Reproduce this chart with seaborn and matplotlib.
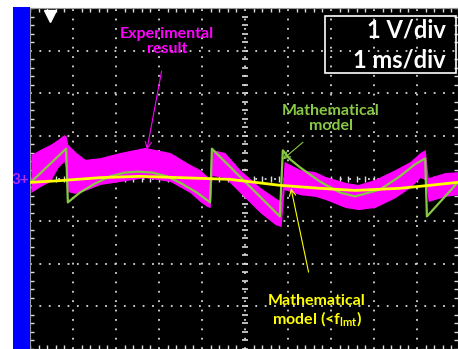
import numpy as np
import pandas as pd
import matplotlib
matplotlib.use("Agg")
import matplotlib.pyplot as plt
from matplotlib.patches import Rectangle
import seaborn as sns

# time in ms (1 ms/div), voltage in V (1 V/div)
exp_t = [0.02, 0.23, 0.47, 0.65, 0.79, 0.84, 0.88, 1.05, 1.28, 1.63, 2.09, 2.67,
         3.26, 3.72, 3.95, 4.12, 4.19, 4.23, 4.53, 4.88, 5.35, 5.70, 5.84, 5.91,
         6.28, 6.63, 6.86, 7.33, 7.63, 8.02, 8.49, 8.84, 9.07, 9.19, 9.26, 9.65, 9.95]
exp_top = [0.56, 0.68, 0.80, 0.92, 1.03, 0.99, 0.80, 0.63, 0.45, 0.49, 0.61, 0.73,
           0.61, 0.33, 0.21, 0.05, 0.02, 0.68, 0.61, 0.21, -0.21, -0.45, -0.54, 0.40,
           0.21, 0.16, 0.05, -0.09, -0.14, -0.02, 0.21, 0.40, 0.61, 0.68, 0.02, 0.14, 0.16]
exp_bot = [-0.33, -0.19, -0.07, 0.26, 0.40, 0.21, -0.31, -0.35, -0.28, -0.14, -0.07, 0.02,
           -0.07, -0.33, -0.54, -0.66, -0.68, 0.07, 0.02, -0.33, -0.80, -1.08, -1.13, -0.26,
           -0.38, -0.42, -0.49, -0.68, -0.73, -0.68, -0.45, -0.21, 0.02, -0.02, -0.54, -0.42, -0.38]

model_t = [0.02, 0.84, 0.88, 1.16, 1.51, 1.86, 2.21, 2.51, 2.84, 3.19, 3.53, 3.88, 4.19,
           4.23, 5.81, 5.88, 6.05, 6.28, 6.74, 7.21, 7.56, 8.14, 8.60, 8.95, 9.19, 9.23, 9.95]
model_v = [-0.09, 0.70, -0.56, -0.33, -0.12, 0.05, 0.14, 0.16, 0.14, 0.05, -0.12, -0.33, -0.56,
           0.70, -0.89, 0.66, 0.45, 0.26, -0.07, -0.33, -0.42, -0.26, 0.05, 0.33, 0.47, -0.89, -0.09]

lmt_t = [0.02, 0.70, 1.63, 2.56, 3.49, 4.65, 5.81, 6.74, 7.56, 8.60, 9.30, 9.95]
lmt_v = [-0.09, -0.05, 0.02, 0.05, 0.02, -0.02, -0.16, -0.23, -0.28, -0.23, -0.16, -0.09]

sns.set_style("dark")
plt.rcParams['font.family'] = ['Lato', 'DejaVu Sans']
plt.rcParams['mathtext.fontset'] = 'custom'
plt.rcParams['mathtext.rm'] = 'Lato'
plt.rcParams['mathtext.bf'] = 'Lato:bold'

fig = plt.figure(figsize=(4.58, 3.49), dpi=100, facecolor='white')
# blue side bar of the scope screen
fig.patches.append(Rectangle((13 / 458, 0), 17 / 458, 342 / 349, transform=fig.transFigure,
                             facecolor='#0000ff', edgecolor='none'))
ax = fig.add_axes([30 / 458, 0, 428 / 458, 341 / 349])
ax.set_facecolor('black')
ax.set_xlim(0, 9.953)
ax.set_ylim(-4, 4)

# scope graticule
ax.set_xticks(np.arange(1, 10))
ax.set_yticks(np.arange(-3, 4))
ax.set_xticks(np.arange(0, 10, 0.2), minor=True)
ax.set_yticks(np.arange(-4, 4.01, 0.2), minor=True)
ax.tick_params(which='both', direction='in', colors='#dddddd', labelleft=False,
               labelbottom=False, top=True, right=True, left=True, bottom=True)
ax.tick_params(which='major', length=0)
ax.tick_params(which='minor', length=3, width=1)
ax.grid(which='major', color='#d8d8d8', linestyle=(0, (1, 4.2)), linewidth=1.3)
for s in ax.spines.values():
    s.set_color('#999999')
    s.set_linewidth(0.8)
cx = np.arange(0, 10, 0.2)
cy = np.arange(-4, 4.01, 0.2)
ax.plot(cx, np.zeros_like(cx), ls='none', marker='|', ms=5, mew=1, color='#dddddd', zorder=1)
ax.plot(np.full_like(cy, 5.0), cy, ls='none', marker='_', ms=5, mew=1.2, color='#dddddd', zorder=1)
ax.plot([0.47], [3.82], marker='v', ms=8, color='white', ls='none', clip_on=False)

ax.fill_between(exp_t, exp_bot, exp_top, color='#ff00ff', lw=0, zorder=2)

model = pd.DataFrame({'t': model_t, 'v': model_v})
lmt = pd.DataFrame({'t': lmt_t, 'v': lmt_v})
sns.lineplot(data=model, x='t', y='v', sort=False, estimator=None, color='#88c845', lw=1.6, ax=ax, zorder=3)
sns.lineplot(data=lmt, x='t', y='v', sort=False, estimator=None, color='#ffff00', lw=2.0, ax=ax, zorder=4)
ax.set_xlabel('')
ax.set_ylabel('')

fig.text(29 / 458, 1 - 180 / 349, '3+', color='#b030e0', fontsize=11, fontweight='bold',
         ha='right', va='center')

ax.annotate('Experimental\nresult', xy=(2.72, 0.68), xytext=(3.19, 3.22), color='#ff00ff',
            fontsize=11.5, fontweight='bold', ha='center', va='center', linespacing=1.05,
            arrowprops=dict(arrowstyle='->', color='#ff00ff', lw=0.8, shrinkA=9, shrinkB=0))
ax.annotate('Mathematical\nmodel', xy=(5.88, 0.45), xytext=(7.0, 1.41), color='#88c845',
            fontsize=11.5, fontweight='bold', ha='center', va='center', linespacing=1.05,
            arrowprops=dict(arrowstyle='->', color='#88c845', lw=0.8, shrinkA=7, shrinkB=0))
ax.annotate('Mathematical\nmodel (<$\\mathbf{f}_{\\mathbf{lmt}}$)', xy=(6.07, -0.23), xytext=(6.67, -3.12),
            color='#ffff00', fontsize=11.5, fontweight='bold', ha='center', va='center', linespacing=1.05,
            arrowprops=dict(arrowstyle='->', color='#ffff00', lw=0.8, shrinkA=14, shrinkB=0))

ax.add_patch(Rectangle((0.689, 0.809), 0.306, 0.168, transform=ax.transAxes, fill=False,
                       edgecolor='white', lw=1.2, zorder=6))
ax.text(0.972, 0.935, '1 V/div', transform=ax.transAxes, color='white', fontsize=17,
        fontweight='bold', ha='right', va='center', zorder=6)
ax.text(0.972, 0.848, '1 ms/div', transform=ax.transAxes, color='white', fontsize=17,
        fontweight='bold', ha='right', va='center', zorder=6)

fig.savefig('out.png', dpi=100, facecolor='white')
